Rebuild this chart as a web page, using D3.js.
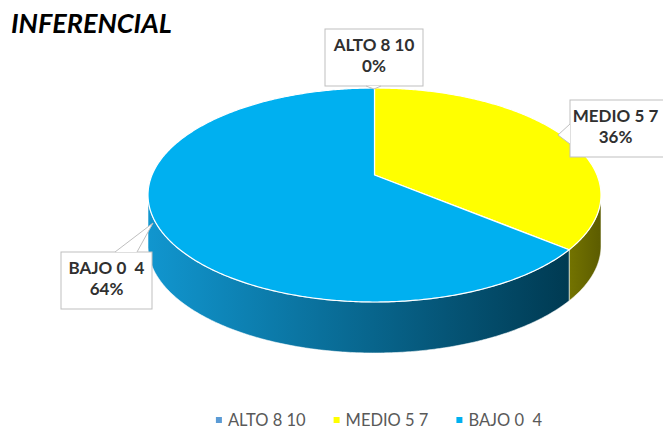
<!DOCTYPE html>
<html>
<head>
<meta charset="utf-8">
<script src="https://cdn.jsdelivr.net/npm/d3@7"></script>
<style>
  body { margin: 0; background: #fff; }
  svg { display: block; font-family: Lato, "Open Sans", sans-serif; }
  text { white-space: pre; }
</style>
</head>
<body>
<div id="chart"></div>
<script>
// data
const categories = ["ALTO 8 10", "MEDIO 5 7", "BAJO 0  4"];
const values = [0, 36, 64];
const percentLabels = ["0%", "36%", "64%"];
const sliceColors = ["#5b9bd5", "#ffff00", "#00b0f0"];

const width = 663, height = 431;

// ellipse of the pie top, with a little perspective
const cx = 374.5, cy = 195, rx = 226.5, ry = 107, depth = 51;
const persp = -0.187;

const svg = d3.select("#chart")
    .append("svg")
    .attr("width", width)
    .attr("height", height);

// title
svg.append("text")
    .attr("x", 11)
    .attr("y", 33)
    .style("font-size", "27px")
    .style("font-weight", "bold")
    .style("font-style", "italic")
    .style("fill", "#000")
    .text("INFERENCIAL");

// angle on the disc -> point on screen
function proj(theta, dy) {
    const u = Math.sin(theta), v = -Math.cos(theta);
    const den = 1 + persp * v;
    const up = u * Math.sqrt(1 - persp * persp) / den;
    const vp = (v + persp) / den;
    return [cx + rx * up, cy + ry * vp + (dy || 0)];
}
const centre = [cx, cy + ry * persp];

const pie = d3.pie().sort(null).value(d => d);
const arcs = pie(values);
const line = d3.line();

function rim(t0, t1, dy) {
    const n = Math.max(2, Math.ceil(Math.abs(t1 - t0) / 0.01));
    return d3.range(n + 1).map(i => proj(t0 + (t1 - t0) * i / n, dy));
}

// side gradients
const defs = svg.append("defs");
const sideGrads = [
    { id: "side0", c: ["#4a7fb0", "#2b5478"], x1: cx - rx, x2: cx + rx },
    { id: "side1", c: ["#7a7a00", "#5c5c00"], x1: 560, x2: 601 },
    { id: "side2", c: ["#1196cf", "#003a52"], x1: cx - rx, x2: 569 }
];
sideGrads.forEach(s => {
    const g = defs.append("linearGradient")
        .attr("id", s.id)
        .attr("gradientUnits", "userSpaceOnUse")
        .attr("x1", s.x1).attr("x2", s.x2)
        .attr("y1", 0).attr("y2", 0);
    g.append("stop").attr("offset", "0%").attr("stop-color", s.c[0]);
    g.append("stop").attr("offset", "100%").attr("stop-color", s.c[1]);
});

// visible (front) part of the cylinder wall
const frontStart = Math.acos(persp);
const frontEnd = 2 * Math.PI - frontStart;

const sides = svg.append("g");
arcs.forEach((a, i) => {
    const t0 = Math.max(a.startAngle, frontStart);
    const t1 = Math.min(a.endAngle, frontEnd);
    if (t1 <= t0) return;
    const pts = rim(t0, t1, 0).concat(rim(t1, t0, depth));
    sides.append("path")
        .attr("d", line(pts) + "Z")
        .attr("fill", "url(#side" + i + ")")
        .attr("stroke", "#ffffff")
        .attr("stroke-width", 0.8)
        .attr("stroke-opacity", 0.7);
});

// top faces
const tops = svg.append("g");
arcs.forEach((a, i) => {
    if (a.endAngle - a.startAngle <= 0) return;
    const pts = [centre].concat(rim(a.startAngle, a.endAngle, 0));
    tops.append("path")
        .attr("d", line(pts) + "Z")
        .attr("fill", sliceColors[i])
        .attr("stroke", "#ffffff")
        .attr("stroke-width", 1.2)
        .attr("stroke-linejoin", "round");
});

// data label callouts
const callouts = [
    { box: [325, 29, 98, 57], wedge: [[366, 86], [374, 89], [381, 86]] },
    { box: [570, 100, 98, 57], wedge: [[570, 124], [558, 135], [570, 144]] },
    { box: [61, 252, 91, 57], wedge: [[115, 252], [153, 223], [137, 252]] }
];
const lbl = svg.append("g");
callouts.forEach((c, i) => {
    const [x, y, w, h] = c.box;
    lbl.append("rect")
        .attr("x", x).attr("y", y).attr("width", w).attr("height", h)
        .attr("fill", "#fff")
        .attr("stroke", "#bfbfbf")
        .attr("stroke-width", 1);
    lbl.append("path")
        .attr("d", line(c.wedge))
        .attr("fill", "#fff")
        .attr("stroke", "#bfbfbf")
        .attr("stroke-width", 1);
    const tx = i == 1 ? 615.5 : x + w / 2;
    lbl.append("text")
        .attr("x", tx).attr("y", y + 22)
        .attr("text-anchor", "middle")
        .style("font-size", "17px")
        .style("font-weight", "bold")
        .style("fill", "#303030")
        .text(categories[i]);
    lbl.append("text")
        .attr("x", tx).attr("y", y + 43)
        .attr("text-anchor", "middle")
        .style("font-size", "17px")
        .style("font-weight", "bold")
        .style("fill", "#303030")
        .text(percentLabels[i]);
});

// legend
const legend = svg.append("g");
const items = [];
categories.forEach((c, i) => {
    const g = legend.append("g");
    g.append("rect")
        .attr("x", 0).attr("y", -9)
        .attr("width", 6).attr("height", 6)
        .attr("fill", sliceColors[i]);
    const t = g.append("text")
        .attr("x", 12).attr("y", 0)
        .style("font-size", "16.5px")
        .style("fill", "#595959")
        .text(c);
    items.push({ g: g, w: 12 + t.node().getComputedTextLength() });
});
const gap = 28;
const total = d3.sum(items, d => d.w) + gap * (items.length - 1);
let lx = 379 - total / 2;
items.forEach(it => {
    it.g.attr("transform", `translate(${lx},426)`);
    lx += it.w + gap;
});
</script>
</body>
</html>
